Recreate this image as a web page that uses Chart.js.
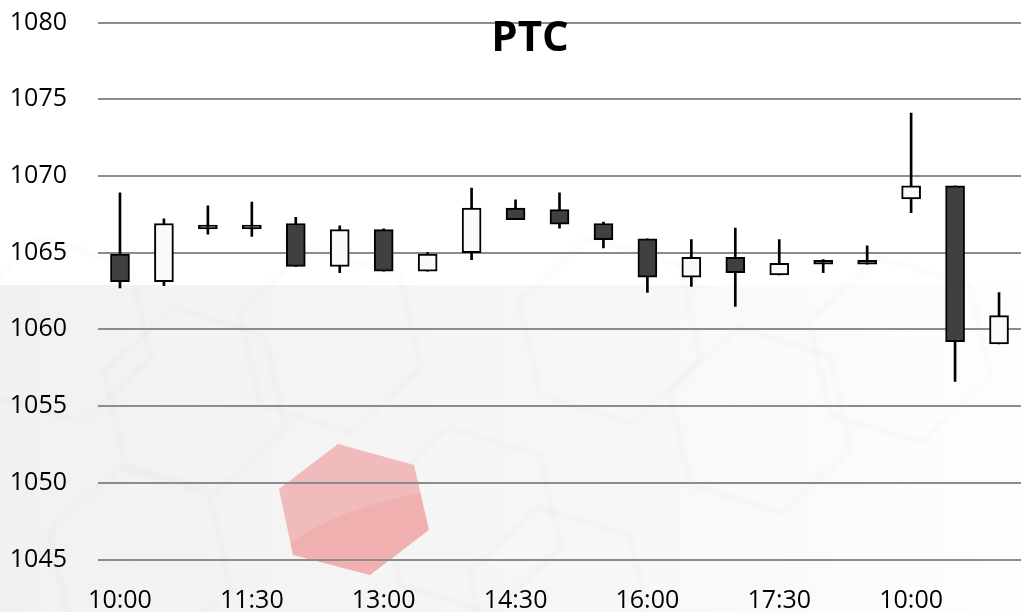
<!DOCTYPE html>
<html>
<head>
<meta charset="utf-8">
<script src="https://cdn.jsdelivr.net/npm/chart.js@4.4.1/dist/chart.umd.min.js"></script>
<style>
html,body{margin:0;padding:0;background:#fff;}
#c{display:block;}
</style>
</head>
<body>
<canvas id="c" width="1021" height="612" style="width:1021px;height:612px"></canvas>
<script>
// ---- data ----
const categories = ['10:00','10:30','11:00','11:30','12:00','12:30','13:00','13:30','14:00','14:30','15:00','15:30','16:00','16:30','17:00','17:30','18:00','18:30','10:00','10:30','11:00'];
const openVals  = [1064.9, 1063.1, 1066.8, 1066.8, 1066.9, 1064.1, 1066.5, 1063.8, 1065.0, 1067.9, 1067.8, 1066.9, 1065.9, 1063.4, 1064.7, 1063.55, 1064.5, 1064.5, 1068.5, 1069.35, 1059.05];
const closeVals = [1063.1, 1066.9, 1066.55, 1066.55, 1064.1, 1066.5, 1063.8, 1064.9, 1067.9, 1067.15, 1066.85, 1065.85, 1063.4, 1064.7, 1063.7, 1064.3, 1064.25, 1064.25, 1069.35, 1059.2, 1060.9];
const highVals  = [1068.9, 1067.2, 1068.05, 1068.3, 1067.3, 1066.75, 1066.55, 1065.0, 1069.2, 1068.45, 1068.9, 1067.0, 1065.9, 1065.85, 1066.6, 1065.85, 1064.55, 1065.45, 1074.1, 1069.35, 1062.4];
const lowVals   = [1062.7, 1062.85, 1066.2, 1066.05, 1064.1, 1063.7, 1063.8, 1063.8, 1064.55, 1067.15, 1066.6, 1065.3, 1062.4, 1062.8, 1061.5, 1063.55, 1063.7, 1064.25, 1067.6, 1056.6, 1059.05];
const yTicks = [1045, 1050, 1055, 1060, 1065, 1070, 1075, 1080];
const labelEvery = 3;
const titleText = 'PTC';

// ---- build ----
const wickData = lowVals.map((l, i) => [l, highVals[i]]);
const bodyData = openVals.map((o, i) => [o, closeVals[i]]);
const bodyColors = openVals.map((o, i) => (closeVals[i] >= o ? '#fafafa' : '#404040'));

const bgPlugin = {
  id: 'bg',
  beforeDraw(chart) {
    const ctx = chart.ctx, w = chart.width, h = chart.height;
    ctx.save();
    ctx.fillStyle = '#ffffff';
    ctx.fillRect(0, 0, w, h);
    const g = ctx.createLinearGradient(0, 0, w, 0);
    g.addColorStop(0, '#f1f1f1');
    g.addColorStop(0.6, '#f7f7f7');
    g.addColorStop(1, '#fefefe');
    ctx.fillStyle = g;
    ctx.fillRect(0, 285, w, h - 285);
    // faint honeycomb outlines
    ctx.strokeStyle = 'rgba(0,0,0,0.012)';
    ctx.lineWidth = 7;
    const hexes = [[60,330],[195,400],[330,340],[140,560],[470,520],[610,330],[760,420],[900,350],[560,600]];
    hexes.forEach(([cx, cy]) => {
      ctx.beginPath();
      for (let k = 0; k < 6; k++) {
        const a = Math.PI / 3 * k + 0.3;
        const px = cx + 95 * Math.cos(a), py = cy + 95 * Math.sin(a);
        if (k === 0) ctx.moveTo(px, py); else ctx.lineTo(px, py);
      }
      ctx.closePath();
      ctx.stroke();
    });
    // pink hexagon watermark
    ctx.beginPath();
    ctx.moveTo(338, 444); ctx.lineTo(414, 465); ctx.lineTo(429, 530);
    ctx.lineTo(370, 575); ctx.lineTo(293, 555); ctx.lineTo(279, 489);
    ctx.closePath();
    ctx.fillStyle = '#f0b0b0';
    ctx.fill();
    ctx.save();
    ctx.clip();
    ctx.beginPath();
    ctx.moveTo(270, 440); ctx.lineTo(440, 440); ctx.lineTo(440, 490);
    ctx.quadraticCurveTo(340, 505, 288, 545);
    ctx.closePath();
    ctx.fillStyle = 'rgba(255,255,255,0.15)';
    ctx.fill();
    ctx.restore();
    ctx.restore();
  },
  afterDraw(chart) {
    const ctx = chart.ctx;
    ctx.save();
    ctx.font = 'bold 42px "Open Sans", sans-serif';
    ctx.fillStyle = '#000';
    ctx.textAlign = 'center';
    ctx.textBaseline = 'alphabetic';
    ctx.fillText(titleText, 530, 51);
    ctx.restore();
  }
};

new Chart(document.getElementById('c'), {
  type: 'bar',
  data: {
    labels: categories,
    datasets: [
      { label: 'wick', data: wickData, backgroundColor: '#000', borderWidth: 0, barThickness: 2, grouped: false, order: 2 },
      { label: 'body', data: bodyData, backgroundColor: bodyColors, borderColor: '#000', borderWidth: 2, borderSkipped: false, barThickness: 19, grouped: false, order: 1 }
    ]
  },
  options: {
    responsive: false,
    animation: false,
    devicePixelRatio: 1,
    layout: { padding: { top: 22.5, right: 0, bottom: 0, left: 0 } },
    plugins: { legend: { display: false }, tooltip: { enabled: false }, title: { display: false } },
    scales: {
      x: {
        grid: { display: false, drawTicks: false },
        border: { display: false },
        ticks: {
          autoSkip: false, maxRotation: 0, padding: 26, color: '#000',
          font: { family: '"Open Sans", sans-serif', size: 25 },
          callback: (v, i) => (i % labelEvery === 0 ? categories[i] : '')
        },
        afterFit: s => { s.height = 52.5; s.paddingLeft = 0; s.paddingRight = 0; }
      },
      y: {
        min: yTicks[0], max: yTicks[yTicks.length - 1],
        afterBuildTicks: s => { s.ticks = yTicks.map(v => ({ value: v })); },
        grid: { color: '#8c8c8c', lineWidth: 2, drawTicks: false },
        border: { display: false },
        ticks: {
          padding: 31, color: '#000',
          font: { family: '"Open Sans", sans-serif', size: 25 },
          callback: v => String(v)
        },
        afterFit: s => { s.width = 98; s.paddingTop = 0; s.paddingBottom = 0; }
      }
    }
  },
  plugins: [bgPlugin]
});
</script>
</body>
</html>
